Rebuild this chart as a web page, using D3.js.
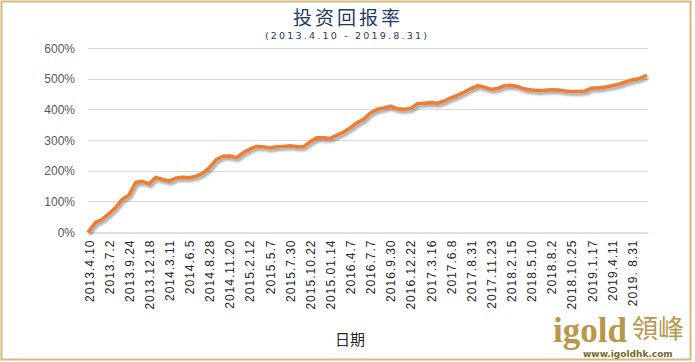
<!DOCTYPE html>
<html>
<head>
<meta charset="utf-8">
<script src="https://cdn.jsdelivr.net/npm/d3@7"></script>
<style>
  body { margin: 0; background: #fff; }
  svg { display: block; }
</style>
</head>
<body>
<div id="chart"></div>
<script>
// tick labels on the category axis (one every 12 weeks)
const tickLabels = [
  "2013.4.10", "2013.7.2", "2013.9.24", "2013.12.18", "2014.3.11", "2014.6.5",
  "2014.8.28", "2014.11.20", "2015.2.12", "2015.5.7", "2015.7.30", "2015.10.22",
  "2015.01.14", "2016.4.7", "2016.7.7", "2016.9.30", "2016.12.22", "2017.3.16",
  "2017.6.8", "2017.8.31", "2017.11.23", "2018.2.15", "2018.5.10", "2018.8.2",
  "2018.10.25", "2019.1.17", "2019.4.11", "2019. 8.31"
];
const yTicks = [0, 100, 200, 300, 400, 500, 600];
const nWeeks = 334;      // weekly categories on the axis
const labelEvery = 12;   // weeks between labels
const sampleEvery = 4;   // weeks between the values below
// return (%) read every 4 weeks
const returns = [
  3, 31, 41, 60, 80, 107, 121, 162, 165, 157,
  178, 171, 166, 176, 178, 177, 182, 192, 210, 236,
  247, 248, 242, 258, 270, 279, 278, 274, 278, 279,
  281, 278, 278, 294, 307, 307, 305, 316, 326, 340,
  356, 368, 388, 400, 404, 410, 402, 400, 403, 418,
  420, 422, 420, 427, 437, 446, 456, 468, 477, 472,
  465, 468, 477, 478, 474, 466, 463, 461, 462, 464,
  463, 460, 458, 458, 460, 469, 470, 473, 477, 482,
  489, 496, 500, 509
];

const W = 695, H = 362;
const plotLeft = 88, plotRight = 648, plotTop = 48, plotBottom = 232;

const svg = d3.select("#chart").append("svg")
  .attr("width", W).attr("height", H);

// frame
svg.append("rect")
  .attr("x", 1.5).attr("y", 1.5).attr("width", 689).attr("height", 358)
  .attr("fill", "#fff").attr("stroke", "#D6B878").attr("stroke-width", 2);

const defs = svg.append("defs");
const f = defs.append("filter").attr("id", "shadow")
  .attr("x", "-5%").attr("y", "-5%").attr("width", "110%").attr("height", "120%");
f.append("feDropShadow").attr("dx", 1.5).attr("dy", 2.5).attr("stdDeviation", 1.2)
  .attr("flood-color", "#000").attr("flood-opacity", 0.35);

const x = d3.scaleLinear().domain([0, nWeeks]).range([plotLeft, plotRight]);
const y = d3.scaleLinear().domain([0, 600]).range([plotBottom, plotTop]);

// gridlines
svg.append("g").selectAll("line").data(yTicks.slice(1)).join("line")
  .attr("x1", plotLeft).attr("x2", plotRight)
  .attr("y1", d => Math.round(y(d)) + 0.5).attr("y2", d => Math.round(y(d)) + 0.5)
  .attr("stroke", "#D9D9D9").attr("stroke-width", 1);

// y axis labels
svg.append("g").selectAll("text").data(yTicks).join("text")
  .attr("x", 75).attr("y", d => y(d) + 4.5)
  .attr("text-anchor", "end")
  .attr("font-family", "Liberation Sans, Arial, sans-serif")
  .attr("font-size", 12).attr("fill", "#595959")
  .text(d => d + "%");

// x axis
const xAxis = d3.axisBottom(x)
  .tickValues(tickLabels.map((d, i) => i * labelEvery + 0.5))
  .tickFormat((d, i) => tickLabels[i])
  .tickSize(0).tickPadding(0);
const gx = svg.append("g").attr("transform", `translate(0,${Math.round(plotBottom) + 0.5})`).call(xAxis);
gx.select(".domain").attr("stroke", "#BFBFBF");
gx.selectAll("text")
  .attr("transform", "rotate(-90)")
  .attr("x", -7).attr("y", 0).attr("dy", "0.35em")
  .attr("text-anchor", "end")
  .attr("font-family", "Liberation Sans, Arial, sans-serif")
  .attr("font-size", 12).attr("letter-spacing", 1).attr("fill", "#262626");

// line
const line = d3.line()
  .x((d, i) => x(i * sampleEvery + 0.5))
  .y(d => y(d));
svg.append("path").datum(returns)
  .attr("d", line)
  .attr("fill", "none").attr("stroke", "#ED7D31")
  .attr("stroke-width", 3.6).attr("stroke-linejoin", "round").attr("stroke-linecap", "round")
  .attr("filter", "url(#shadow)");

// titles
svg.append("text").attr("x", 348).attr("y", 25).attr("text-anchor", "middle")
  .attr("font-family", "Noto Sans CJK SC, sans-serif").attr("font-size", 19)
  .attr("fill", "#1F3864").attr("letter-spacing", 3).text("投资回报率");
svg.append("text").attr("x", 347).attr("y", 39).attr("text-anchor", "middle")
  .attr("font-family", "DejaVu Sans, sans-serif").attr("font-size", 9.5)
  .attr("fill", "#1F3864").attr("letter-spacing", 2.2).text("(2013.4.10 - 2019.8.31)");
svg.append("text").attr("x", 350).attr("y", 345).attr("text-anchor", "middle")
  .attr("font-family", "Noto Sans CJK SC, sans-serif").attr("font-size", 15)
  .attr("fill", "#262626").text("日期");

// logo
const logo = svg.append("g");
logo.append("text").attr("x", 553).attr("y", 342)
  .attr("font-family", "Liberation Serif, serif").attr("font-weight", "bold")
  .attr("font-size", 35).attr("fill", "#B9974B").text("igold");
logo.append("text").attr("x", 632).attr("y", 338)
  .attr("font-family", "Noto Sans CJK TC, sans-serif")
  .attr("font-size", 26).attr("fill", "#B9974B").text("領峰");
logo.append("text").attr("x", 583).attr("y", 357)
  .attr("font-family", "DejaVu Sans, sans-serif").attr("font-weight", "bold")
  .attr("font-size", 9).attr("fill", "#7A6530").text("www.igoldhk.com");
</script>
</body>
</html>
